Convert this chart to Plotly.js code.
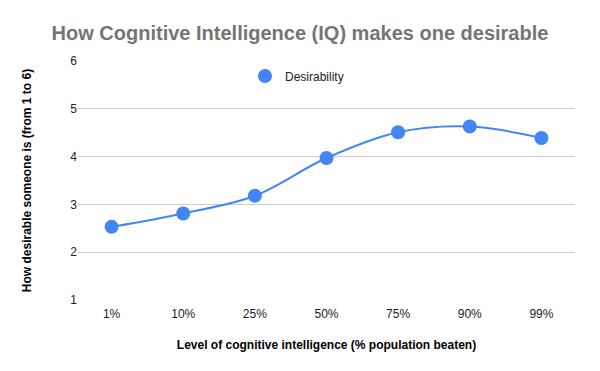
<!DOCTYPE html>
<html>
<head>
<meta charset="utf-8">
<script src="https://cdn.plot.ly/plotly-3.0.1.min.js"></script>
<style>html,body{margin:0;padding:0;background:#fff;}#chart{width:600px;height:371px;}</style>
</head>
<body>
<div id="chart"></div>
<script>
const categories = ["1%", "10%", "25%", "50%", "75%", "90%", "99%"];
const desirability = [2.53, 2.81, 3.18, 3.97, 4.51, 4.63, 4.39];
const seriesName = "Desirability";
const yTicks = [1, 2, 3, 4, 5, 6];

const lineTrace = {
  x: categories,
  y: desirability,
  name: seriesName,
  type: "scatter",
  mode: "lines",
  line: {color: "#4285F4", width: 2, shape: "spline", smoothing: 1},
  showlegend: false,
  hoverinfo: "skip"
};
const markerTrace = {
  x: categories,
  y: desirability,
  name: seriesName,
  type: "scatter",
  mode: "markers",
  marker: {color: "#4285F4", size: 14},
  showlegend: true
};

const layout = {
  width: 600,
  height: 371,
  margin: {l: 78, r: 25, t: 61, b: 71},
  paper_bgcolor: "#ffffff",
  plot_bgcolor: "#ffffff",
  font: {family: "Liberation Sans, Arial, sans-serif", size: 12, color: "#222222"},
  title: {
    text: "<b>How Cognitive Intelligence (IQ) makes one desirable</b>",
    font: {family: "Liberation Sans, Arial, sans-serif", size: 20, color: "#757575"},
    x: 0.5, xanchor: "center", xref: "container",
    y: 1 - 33 / 371, yref: "container", yanchor: "middle"
  },
  xaxis: {
    type: "category",
    showgrid: false,
    zeroline: false,
    showline: false,
    ticks: "",
    ticklabelstandoff: 5,
    tickfont: {size: 12, color: "#222222"},
    title: {text: "<b>Level of cognitive intelligence (% population beaten)</b>", font: {size: 12, color: "#000000"}, standoff: 20}
  },
  yaxis: {
    range: [1, 6],
    tickvals: yTicks,
    showgrid: true,
    gridcolor: "#cccccc",
    gridwidth: 1,
    zeroline: false,
    showline: false,
    ticks: "",
    tickfont: {size: 12, color: "#222222"},
    title: {text: "<b>How desirable someone is (from 1 to 6)</b>", font: {size: 12, color: "#000000"}, standoff: 36}
  },
  showlegend: true,
  legend: {
    orientation: "h",
    x: (245 - 78) / 497, xanchor: "left",
    y: 1 - (76 - 61) / 239,
    yanchor: "middle",
    font: {size: 12, color: "#222222"},
    bgcolor: "rgba(0,0,0,0)"
  }
};

Plotly.newPlot("chart", [lineTrace, markerTrace], layout, {displayModeBar: false, staticPlot: true});
</script>
</body>
</html>
